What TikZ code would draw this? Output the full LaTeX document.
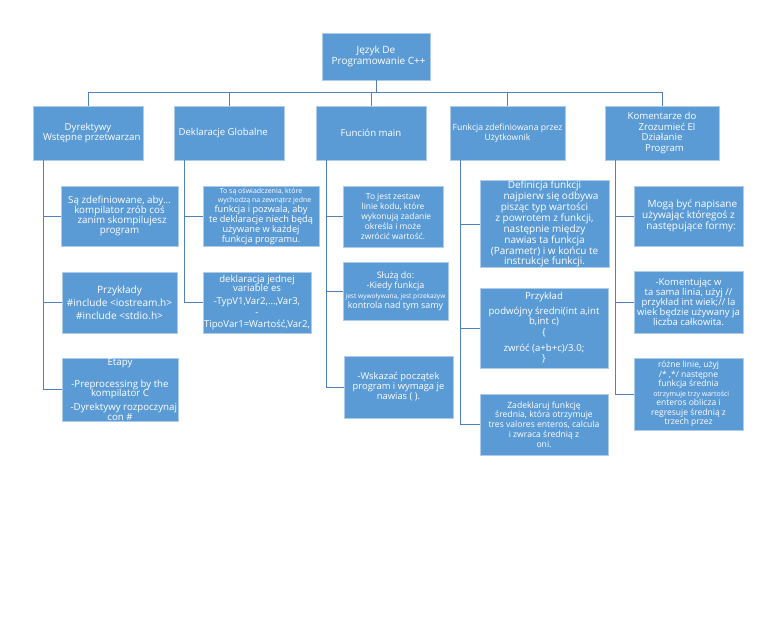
\documentclass[tikz,border=0pt]{standalone}
\usepackage{fontspec}
\setmainfont{Open Sans}
\definecolor{boxfill}{RGB}{91,155,213}
\definecolor{boxedge}{RGB}{175,203,234}
\definecolor{linecol}{RGB}{79,129,189}
\newcommand{\rozmiar}[2]{\fontsize{#1}{#2}\selectfont}
\newcommand{\drobne}[1]{{\fontsize{7}{7.5}\selectfont #1}}
\begin{document}
\begin{tikzpicture}[x=1pt, y=-1pt,
    box/.style={rectangle, fill=boxfill, draw=boxedge, line width=0.6pt,
      text=white, align=center, inner sep=0.5pt},
    head/.style={box, minimum height=54pt, font=\rozmiar{9.6}{10.6}},
    item/.style={box, font=\rozmiar{9.4}{9.8}},
    link/.style={draw=linecol, line width=0.8pt}]

  \useasboundingbox (0,0) rectangle (768,637);

  \node[head, minimum width=108pt, minimum height=47pt, font=\rozmiar{10}{11}] (top) at (376,56.5)
    {Język De\hspace{2.5em}\\ \ \ Programowanie C++};

  \node[head, minimum width=110pt] (dir) at (88,133)
    {Dyrektywy\hspace{2em}\\ \ \ \ Wstępne przetwarzan};
  \node[head, minimum width=110pt] (decl) at (229,133)
    {Deklaracje Globalne\hspace{1.2em}};
  \node[head, minimum width=110pt] (main) at (371,133)
    {Función main};
  \node[head, minimum width=115pt, font=\rozmiar{8.6}{10}] (user) at (507.5,133)
    {Funkcja zdefiniowana przez\\Użytkownik};
  \node[head, minimum width=114pt] (comm) at (662,133)
    {Komentarze do\hspace{1em}\\ \ \ \ \ Zrozumieć El\\Działanie\hspace{4em}\\ \ \ Program};

  \node[item, minimum width=117pt, minimum height=60pt, font=\rozmiar{9.8}{10}] (d1) at (119.5,216)
    {Są zdefiniowane, aby...\\kompilator zrób coś\hspace{1em}\\ \ \ zanim skompilujesz\\program};
  \node[item, minimum width=115pt, minimum height=61pt, font=\rozmiar{10.1}{12.8}] (d2) at (119.5,302.5)
    {Przykłady\\\#include <iostream.h>\\\#include <stdio.h>};
  \node[item, minimum width=116pt, minimum height=61pt, font=\rozmiar{9.7}{9.8}] (d3) at (120,389.5)
    {Etapy\hspace{5em}\\[12pt]-Preprocessing by the\\kompilator C\\[4pt]\ \ \ -Dyrektywy rozpoczynaj\\con \#};

  \node[item, minimum width=116pt, minimum height=60pt, font=\rozmiar{9.2}{9.8}] (g1) at (261,216)
    {\drobne{To są oświadczenia, które}\\\drobne{\ \ \ \ wychodzą na zewnątrz jedne}\\funkcja i pozwala, aby\\te deklaracje niech będą\\używane w każdej\\funkcja programu.};
  \node[item, minimum width=108pt, minimum height=61pt, font=\rozmiar{9.6}{9.6}] (g2) at (257,302.5)
    {deklaracja jednej\\variable es\\[3pt]-TypV1,Var2,...,Var3,\\[1pt]-\\[3pt]TipoVar1=Wartość,Var2,};

  \node[item, minimum width=100pt, minimum height=61pt, font=\rozmiar{8.4}{10}] (m1) at (393,216.5)
    {To jest zestaw\hspace{1em}\\linie kodu, które\hspace{1.2em}\\ \ \ \ wykonują zadanie\\określa i może\hspace{1em}\\zwrócić wartość.};
  \node[item, minimum width=105pt, minimum height=58pt, font=\rozmiar{8.9}{10}] (m2) at (395.5,291)
    {Służą do:\hspace{1em}\\-Kiedy funkcja\hspace{1em}\\{\fontsize{6.6}{7}\selectfont jest wywoływana, jest przekazyw}\\kontrola nad tym samy};
  \node[item, minimum width=109pt, minimum height=62pt, font=\rozmiar{9.4}{10}] (m3) at (398.5,387)
    {-Wskazać początek\\program i wymaga je\\nawias ( ).};

  \node[item, minimum width=129pt, minimum height=76pt, font=\rozmiar{10}{9.5}] (u1) at (544.5,224)
    {Definicja funkcji\hspace{5em}\\ \ \ \ \ \ najpierw się odbywa\\pisząc typ wartości\hspace{1em}\\z powrotem z funkcji,\\następnie między\\nawias ta funkcja\\(Parametr) i w końcu te\\instrukcje funkcji.\hspace{1.5em}};
  \node[item, minimum width=128pt, minimum height=80pt, font=\rozmiar{9.6}{10}] (u2) at (544,328)
    {Przykład\\[5pt]podwójny średni(int a,int\\b,int c)\\[1pt]\{\\[6pt]zwróć (a+b+c)/3.0;\\\}};
  \node[item, minimum width=128pt, minimum height=61pt, font=\rozmiar{8.6}{9.8}] (u3) at (544,424.5)
    {Zadeklaruj funkcję\\średnia, która otrzymuje\\tres valores enteros, calcula\\i zwraca średnią z\hspace{2em}\\oni.};

  \node[item, minimum width=109pt, minimum height=60pt, font=\rozmiar{10}{10}] (k1) at (688.5,216)
    {\ \ \ Mogą być napisane\\używając któregoś z\hspace{1em}\\ \ \ następujące formy:};
  \node[item, minimum width=109pt, minimum height=62pt, font=\rozmiar{9.5}{9.8}] (k2) at (688.5,302)
    {-Komentując w\hspace{2em}\\ta sama linia, użyj //\\przykład int wiek;// la\\wiek będzie używany ja\\liczba całkowita.};
  \node[item, minimum width=109pt, minimum height=72pt, font=\rozmiar{8.5}{9.5}] (k3) at (688.5,394)
    {różne linie, użyj\\/* ,*/ następne\\funkcja średnia\\\drobne{\ \ \ otrzymuje trzy wartości}\\enteros oblicza i\\regresuje średnią z\\trzech przez\hspace{3em}};

  \coordinate (bus) at (376,92);
  \draw[link] (top.south) -- (bus);
  \foreach \p in {dir,decl,main,user,comm}
    \draw[link] (bus) -| (\p.north);

  \foreach \p/\c in {dir/d1,dir/d2,dir/d3,decl/g1,decl/g2,main/m1,main/m2,main/m3,
                     user/u1,user/u2,user/u3,comm/k1,comm/k2,comm/k3}
    \draw[link] ([xshift=11pt]\p.south west) |- (\c.west);
\end{tikzpicture}
\end{document}
